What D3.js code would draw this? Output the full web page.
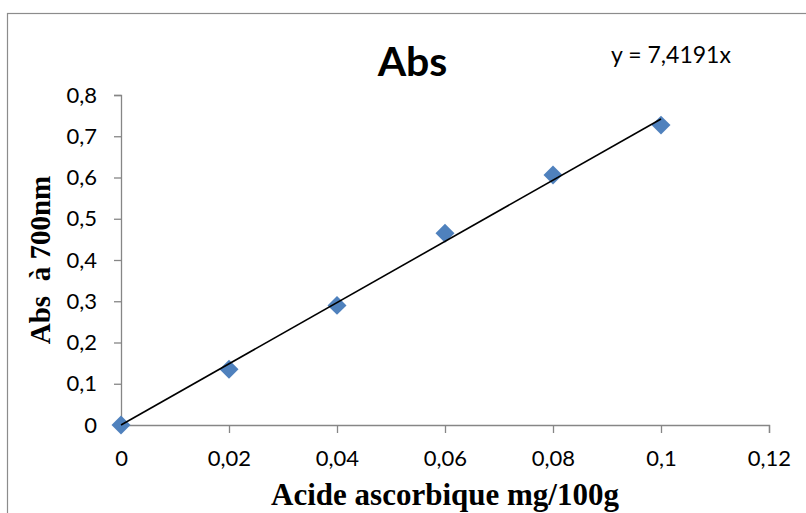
<!DOCTYPE html>
<html>
<head>
<meta charset="utf-8">
<script src="https://cdn.jsdelivr.net/npm/d3@7"></script>
<style>
  html, body { margin: 0; padding: 0; background: #fff; }
  svg { display: block; }
</style>
</head>
<body>
<svg id="chart" width="806" height="513"></svg>
<script>
// Ascorbic acid calibration: concentration vs absorbance at 700 nm
const concentrations = [0, 0.02, 0.04, 0.06, 0.08, 0.1];
const absorbances = [0, 0.135, 0.29, 0.465, 0.606, 0.727];
const slope = 7.4191;
const xTicks = [0, 0.02, 0.04, 0.06, 0.08, 0.1, 0.12];
const yTicks = [0, 0.1, 0.2, 0.3, 0.4, 0.5, 0.6, 0.7, 0.8];

const svg = d3.select("#chart");
const fmt = d => String(d).replace(".", ",");

// chart frame
svg.append("rect")
  .attr("x", 7.5).attr("y", 13.5)
  .attr("width", 820).attr("height", 520)
  .attr("fill", "none").attr("stroke", "#8c8c8c").attr("stroke-width", 1.2);

const x = d3.scaleLinear().domain([0, 0.12]).range([121, 769]);
const y = d3.scaleLinear().domain([0, 0.8]).range([425, 95]);

const axisColor = "#868686";
const sansFont = "Lato, 'Open Sans', sans-serif";
const serifFont = "'Liberation Serif', 'Times New Roman', serif";

// x axis
const gx = svg.append("g")
  .attr("transform", `translate(0,${y(0)})`)
  .call(d3.axisBottom(x).tickValues(xTicks).tickFormat(fmt).tickSizeOuter(0).tickSize(8).tickPadding(17));
gx.select(".domain").attr("stroke", axisColor).attr("stroke-width", 1.3);
gx.selectAll(".tick line").attr("stroke", axisColor).attr("stroke-width", 1.3);
gx.selectAll(".tick text")
  .attr("fill", "#000").style("font-family", sansFont).style("font-size", "22px");

// y axis
const gy = svg.append("g")
  .attr("transform", `translate(${x(0)},0)`)
  .call(d3.axisLeft(y).tickValues(yTicks).tickFormat(fmt).tickSizeOuter(0).tickSize(7).tickPadding(17));
gy.select(".domain").attr("stroke", axisColor).attr("stroke-width", 1.3);
gy.selectAll(".tick line").attr("stroke", axisColor).attr("stroke-width", 1.3);
gy.selectAll(".tick text")
  .attr("fill", "#000").style("font-family", sansFont).style("font-size", "22px");

// data markers (diamonds)
const diamond = d3.symbol().type(d3.symbolSquare).size(180);
svg.append("g").selectAll("path")
  .data(concentrations.map((c, i) => [c, absorbances[i]]))
  .join("path")
  .attr("d", diamond)
  .attr("transform", d => `translate(${x(d[0])},${y(d[1])}) rotate(45)`)
  .attr("fill", "#4f81bd");

// linear trendline through the origin, drawn over the markers
const xMax = d3.max(concentrations);
svg.append("line")
  .attr("x1", x(0)).attr("y1", y(0))
  .attr("x2", x(xMax)).attr("y2", y(slope * xMax))
  .attr("stroke", "#000").attr("stroke-width", 1.6);

// title
svg.append("text")
  .attr("x", 412.5).attr("y", 76)
  .attr("text-anchor", "middle")
  .style("font-family", sansFont).style("font-weight", "bold").style("font-size", "41px")
  .text("Abs");

// trendline equation
svg.append("text")
  .attr("x", 671).attr("y", 63)
  .attr("text-anchor", "middle")
  .style("font-family", sansFont).style("font-size", "23px")
  .text("y = " + fmt(slope) + "x");

// axis titles
svg.append("text")
  .attr("x", 445).attr("y", 505)
  .attr("text-anchor", "middle")
  .style("font-family", serifFont)
  .style("font-weight", "bold").style("font-size", "31px")
  .text("Acide ascorbique mg/100g");

svg.append("text")
  .attr("transform", "translate(50,260) rotate(-90)")
  .attr("text-anchor", "middle")
  .style("font-family", serifFont)
  .style("white-space", "pre")
  .style("font-weight", "bold").style("font-size", "29px")
  .text("Abs  à 700nm");
</script>
</body>
</html>
